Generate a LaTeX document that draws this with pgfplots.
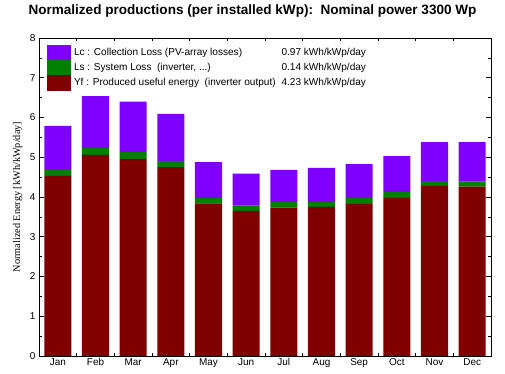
\documentclass[border=0pt]{standalone}
\usepackage{pgfplots}
\pgfplotsset{compat=1.18}
\usepackage{fontspec}
\setmainfont{Liberation Sans}
\newfontfamily\seriffont{Liberation Serif}
\definecolor{lc}{HTML}{8000FF}
\definecolor{ls}{HTML}{008000}
\definecolor{yf}{HTML}{800000}
\pgfplotstableread{
x Yf Ls Lc
0 4.53 0.15 1.11
1 5.06 0.17 1.31
2 4.96 0.17 1.27
3 4.75 0.16 1.18
4 3.84 0.14 0.90
5 3.65 0.13 0.81
6 3.73 0.14 0.81
7 3.75 0.13 0.85
8 3.83 0.14 0.86
9 3.98 0.15 0.90
10 4.28 0.12 0.98
11 4.26 0.13 0.99
}\data
\begin{document}
\begin{tikzpicture}
\begin{axis}[
  name=ax,
  scale only axis,
  width=452bp, height=318bp,
  xmin=-0.5, xmax=11.5, ymin=0, ymax=8,
  ybar stacked, bar width=0.72,
  xtick={0,...,11},
  xticklabels={Jan,Feb,Mar,Apr,May,Jun,Jul,Aug,Sep,Oct,Nov,Dec},
  minor xtick={0.5,1.5,...,10.5},
  major x tick style={draw=none},
  ytick={0,...,8},
  minor ytick={0.5,1.5,...,7.5},
  tick align=inside,
  major tick length=5bp, minor tick length=3bp,
  xtick pos=both, ytick pos=both,
  x tick label style={font=\fontsize{10}{11}\selectfont, yshift=1bp},
  y tick label style={font=\fontsize{10}{11}\selectfont},
  xticklabel pos=lower, yticklabel pos=left,
  /pgf/number format/assume math mode=true,
  axis line style={black, line width=0.8pt},
  tick style={black, line width=0.6pt},
  ylabel={\seriffont Normalized Energy [kWh/kWp/day]},
  ylabel style={font=\fontsize{10.3}{12}\selectfont, at={(axis description cs:-0.047,0.5)}, anchor=center},
  title={Normalized productions (per installed kWp):\ \ Nominal power 3300 Wp},
  title style={font=\bfseries\fontsize{13.6}{15}\selectfont, at={(axis description cs:0.4723,1.066)}, anchor=center},
  reverse legend,
  legend image code/.code={\fill[#1] (0bp,-7.6bp) rectangle (24bp,7.6bp);},
  legend style={draw=none, fill=none, at={(axis description cs:0.0177,0.978)}, anchor=north west,
    row sep=0pt, inner sep=0pt, outer sep=0pt,
    font=\fontsize{10.1}{12}\selectfont,
    nodes={inner ysep=0pt, inner xsep=3bp, minimum height=15.2bp}},
  legend cell align=left,
]
\addplot[fill=yf, draw=none] table[x=x, y=Yf] {\data};
\addplot[fill=ls, draw=none] table[x=x, y=Ls] {\data};
\addplot[fill=lc, draw=none] table[x=x, y=Lc] {\data};
\legend{\hbox to 292bp{Yf : Produced useful energy\ \ (inverter output)\hskip 3bp plus 1fill 4.23 kWh/kWp/day},
        \hbox to 292bp{Ls : System Loss\ \ (inverter, ...)\hfill 0.14 kWh/kWp/day},
        \hbox to 292bp{Lc : Collection Loss (PV-array losses)\hfill 0.97 kWh/kWp/day}}
\end{axis}
\path ([shift={(-39bp,-18bp)}]ax.south west) rectangle ([shift={(14bp,38bp)}]ax.north east);
\end{tikzpicture}
\end{document}
